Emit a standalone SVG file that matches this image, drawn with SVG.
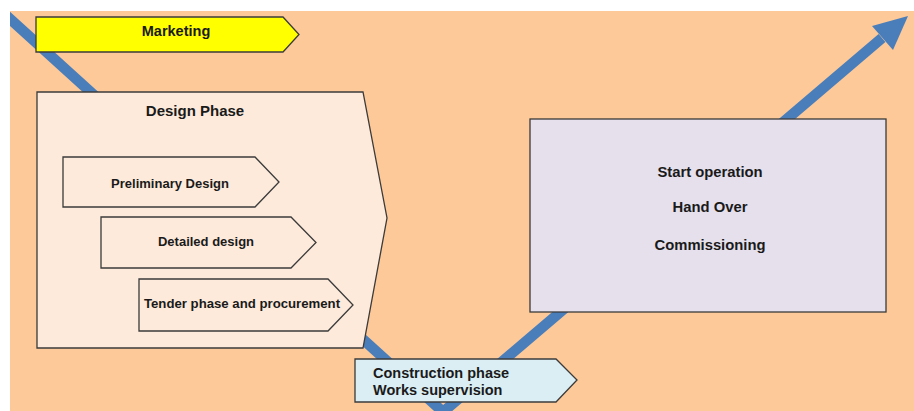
<svg xmlns="http://www.w3.org/2000/svg" width="914" height="411" viewBox="0 0 914 411">
  <defs>
    <clipPath id="panel">
      <rect x="10" y="11" width="904" height="400"/>
    </clipPath>
    <style>
      .box { stroke: #3b3b3b; stroke-width: 1.3; stroke-linejoin: miter; }
      .lbl { font-family: "Liberation Sans", Arial, sans-serif; font-weight: bold; fill: #1a1a1a; }
      .mid { text-anchor: middle; }
    </style>
  </defs>

  <!-- background -->
  <rect x="0" y="0" width="914" height="411" fill="#ffffff"/>
  <rect x="10" y="11" width="904" height="400" fill="#fdc998"/>

  <!-- project life-cycle V arrow -->
  <g id="connectors" clip-path="url(#panel)">
    <polyline points="-3,7 443,412 882,38" fill="none" stroke="#4a7ebb" stroke-width="10.5" stroke-linejoin="miter"/>
    <polygon points="908,16 872,26 893,50" fill="#4a7ebb"/>
  </g>

  <g id="marketing">
    <polygon class="box" points="36,17 283,17 299,34.5 283,52 36,52" fill="#ffff00"/>
    <text class="lbl mid" x="176" y="35.5" font-size="14.5">Marketing</text>
  </g>

  <g id="design-phase">
    <polygon class="box" points="37,92 363,92 387,218 363,348 37,348" fill="#fdeadb"/>
    <text class="lbl mid" x="195" y="116" font-size="15">Design Phase</text>
  </g>

  <g id="preliminary-design">
    <polygon class="box" points="63,157 255,157 279,182 255,207 63,207" fill="#fdeadb"/>
    <text class="lbl mid" x="170" y="188" font-size="13">Preliminary Design</text>
  </g>

  <g id="detailed-design">
    <polygon class="box" points="101,217 291,217 316,242.5 291,268 101,268" fill="#fdeadb"/>
    <text class="lbl mid" x="206" y="246" font-size="13">Detailed design</text>
  </g>

  <g id="tender-phase">
    <polygon class="box" points="139,279 328,279 353,305 328,331 139,331" fill="#fdeadb"/>
    <text class="lbl mid" x="242" y="308" font-size="13.2">Tender phase and procurement</text>
  </g>

  <g id="operation">
    <rect class="box" x="530" y="119" width="356" height="193" fill="#e5e0ec"/>
    <text class="lbl mid" x="710" y="177" font-size="14.8">Start operation</text>
    <text class="lbl mid" x="710" y="212" font-size="14.8">Hand Over</text>
    <text class="lbl mid" x="710" y="250" font-size="14.8">Commissioning</text>
  </g>

  <g id="construction-phase">
    <polygon class="box" points="355,359 556,359 577,380 556,402 355,402" fill="#dbeef4"/>
    <text class="lbl" x="373" y="378" font-size="14.5">Construction phase</text>
    <text class="lbl" x="373" y="395" font-size="14.5">Works supervision</text>
  </g>
</svg>
